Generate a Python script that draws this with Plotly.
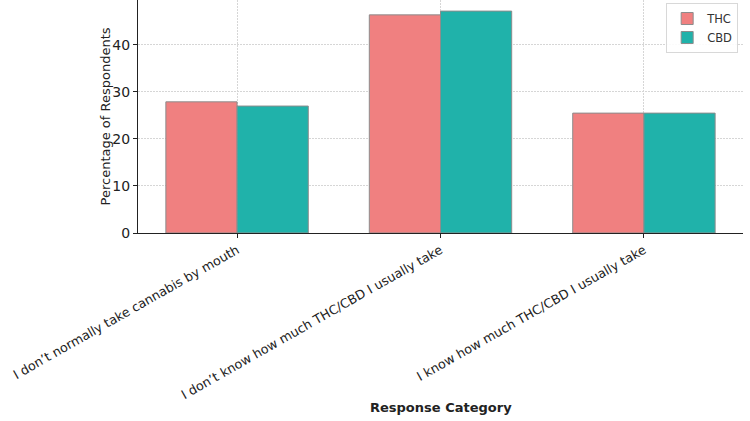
import plotly.graph_objects as go

# survey responses (% of respondents)
categories = [
    "I don\u2019t normally take cannabis by mouth",
    "I don\u2019t know how much THC/CBD I usually take",
    "I know how much THC/CBD I usually take",
]
thc_values = [27.9, 46.4, 25.5]
cbd_values = [27.0, 47.2, 25.5]
y_ticks = [0, 10, 20, 30, 40]

font_family = "DejaVu Sans"

fig = go.Figure()

fig.add_trace(go.Bar(
    x=categories,
    y=thc_values,
    name="THC",
    marker=dict(color="#F08080", line=dict(color="#8c8c8c", width=1)),
    offsetgroup=0,
))
fig.add_trace(go.Bar(
    x=categories,
    y=cbd_values,
    name="CBD",
    marker=dict(color="#20B2AA", line=dict(color="#8c8c8c", width=1)),
    offsetgroup=1,
))

fig.update_layout(
    width=750,
    height=421,
    plot_bgcolor="white",
    paper_bgcolor="white",
    font=dict(family=font_family, size=13, color="#222222"),
    margin=dict(l=138, r=7, t=0, b=188, autoexpand=False),
    barmode="group",
    bargap=0.3,
    bargroupgap=0,
    legend=dict(
        x=0.992, y=0.987, xanchor="right", yanchor="top",
        bgcolor="rgba(255,255,255,0.9)", bordercolor="#d8d8d8", borderwidth=1,
        font=dict(size=11.5, color="#333333"),
        itemwidth=30, tracegroupgap=2,
    ),
    xaxis=dict(
        range=[-0.487, 2.487],
        tickangle=-29.6,
        showline=True, linecolor="#222222", linewidth=1,
        ticks="outside", ticklen=4, tickcolor="#222222",
        showgrid=True, gridcolor="#d6d6d6", griddash="2px,1px", gridwidth=0.8,
        automargin=False,
        tickfont=dict(size=12.7),
    ),
    yaxis=dict(
        range=[0, 49.56],
        tickvals=y_ticks,
        showline=True, linecolor="#222222", linewidth=1,
        ticks="outside", ticklen=4, tickcolor="#222222",
        showgrid=True, gridcolor="#d6d6d6", griddash="2px,1px", gridwidth=0.8,
        zeroline=False,
        automargin=False,
        tickfont=dict(size=14),
    ),
    annotations=[
        dict(text="<b>Response Category</b>", x=0.5, y=-0.747, xref="paper", yref="paper",
             showarrow=False, xanchor="center", yanchor="middle", font=dict(size=13)),
        dict(text="Percentage of Respondents", x=-0.053, y=0.5, xref="paper", yref="paper",
             showarrow=False, xanchor="center", yanchor="middle", textangle=-90, font=dict(size=13)),
    ],
)

# drop the default page margin so the figure sits at the window's corner
fig.write_html("out.html", config={"displayModeBar": False},
               post_script="document.body.style.margin='0';")
